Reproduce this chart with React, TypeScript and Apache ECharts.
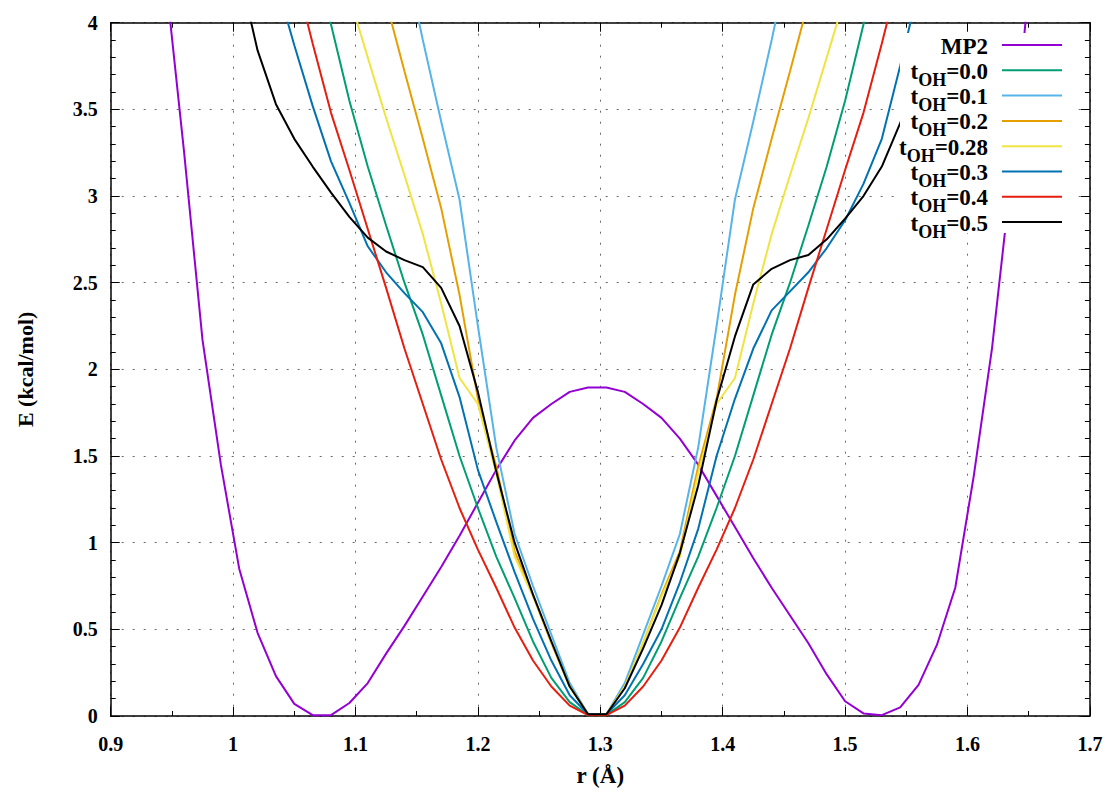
import React, { useEffect, useRef } from "react";
import * as echarts from "echarts";

// Sampling grid of bond length r (Å)
const rGrid = [
  0.93, 0.945, 0.96, 0.975, 0.99, 1.005, 1.02, 1.035, 1.05, 1.065,
  1.08, 1.095, 1.11, 1.125, 1.14, 1.155, 1.17, 1.185, 1.2, 1.215,
  1.23, 1.245, 1.26, 1.275, 1.29, 1.305, 1.32, 1.335, 1.35, 1.365,
  1.38, 1.395, 1.41, 1.425, 1.44, 1.455, 1.47, 1.485, 1.5, 1.515,
  1.53, 1.545, 1.56, 1.575, 1.59, 1.605, 1.62, 1.635, 1.65, 1.665,
];

const mp2 = [
  5.6, 4.25, 3.25, 2.17, 1.45, 0.85, 0.48, 0.23, 0.07, 0.005,
  0.005, 0.075, 0.19, 0.36, 0.52, 0.69, 0.86, 1.04, 1.23, 1.42,
  1.59, 1.72, 1.8, 1.87, 1.895, 1.895, 1.87, 1.8, 1.72, 1.6,
  1.45, 1.27, 1.09, 0.91, 0.74, 0.58, 0.42, 0.24, 0.085, 0.015,
  0.005, 0.05, 0.18, 0.41, 0.74, 1.38, 2.12, 3.07, 4.2, null,
];

const tOH00 = [
  null, null, null, null, null, null, null, null, null, 4.4,
  3.99, 3.55, 3.17, 2.83, 2.5, 2.2, 1.85, 1.5, 1.2, 0.92,
  0.68, 0.43, 0.22, 0.08, 0.005, 0.005, 0.08, 0.22, 0.43, 0.68,
  0.92, 1.2, 1.5, 1.85, 2.2, 2.5, 2.83, 3.17, 3.55, 3.99,
  4.4, null, null, null, null, null, null, null, null, null,
];

const tOH01 = [
  null, null, null, null, null, null, null, null, null, null,
  null, null, null, null, 4.4, 3.9, 3.43, 2.98, 2.25, 1.55,
  1.05, 0.75, 0.47, 0.19, 0.01, 0.01, 0.19, 0.47, 0.75, 1.05,
  1.55, 2.25, 2.98, 3.43, 3.9, 4.4, null, null, null, null,
  null, null, null, null, null, null, null, null, null, null,
];

const tOH02 = [
  null, null, null, null, null, null, null, null, null, null,
  null, null, null, 4.12, 3.72, 3.33, 2.93, 2.43, 1.83, 1.44,
  0.95, 0.7, 0.42, 0.17, 0.01, 0.01, 0.17, 0.42, 0.7, 0.95,
  1.44, 1.83, 2.43, 2.93, 3.33, 3.72, 4.12, null, null, null,
  null, null, null, null, null, null, null, null, null, null,
];

const tOH028 = [
  null, null, null, null, null, null, null, null, null, null,
  null, 4.15, 3.8, 3.45, 3.12, 2.78, 2.38, 1.95, 1.8, 1.4,
  0.92, 0.69, 0.42, 0.17, 0.01, 0.01, 0.17, 0.42, 0.69, 0.92,
  1.4, 1.8, 1.95, 2.38, 2.78, 3.12, 3.45, 3.8, 4.15, null,
  null, null, null, null, null, null, null, null, null, null,
];

const tOH03 = [
  null, null, null, null, null, null, null, 4.24, 3.87, 3.52,
  3.2, 2.96, 2.71, 2.56, 2.44, 2.33, 2.15, 1.84, 1.42, 1.12,
  0.83, 0.56, 0.32, 0.12, 0.01, 0.01, 0.12, 0.3, 0.5, 0.77,
  1.08, 1.5, 1.83, 2.12, 2.34, 2.45, 2.56, 2.7, 2.86, 3.07,
  3.33, 3.75, 4.2, null, null, null, null, null, null, null,
];

const tOH04 = [
  null, null, null, null, null, null, null, null, 4.3, 3.88,
  3.48, 3.15, 2.81, 2.47, 2.12, 1.8, 1.48, 1.2, 0.96, 0.74,
  0.51, 0.32, 0.17, 0.06, 0.005, 0.005, 0.06, 0.17, 0.32, 0.51,
  0.74, 0.96, 1.2, 1.48, 1.8, 2.12, 2.47, 2.81, 3.15, 3.48,
  3.88, 4.3, null, null, null, null, null, null, null, null,
];

const tOH05 = [
  null, null, null, null, null, 4.3, 3.84, 3.53, 3.33, 3.17,
  3.02, 2.88, 2.76, 2.68, 2.63, 2.59, 2.47, 2.25, 1.87, 1.41,
  1.0, 0.7, 0.43, 0.17, 0.01, 0.01, 0.16, 0.39, 0.64, 0.94,
  1.33, 1.82, 2.19, 2.49, 2.58, 2.63, 2.66, 2.75, 2.87, 3.0,
  3.17, 3.42, 3.7, null, null, null, null, null, null, null,
];

const seriesNames = ["MP2", "tOH=0.0", "tOH=0.1", "tOH=0.2", "tOH=0.28", "tOH=0.3", "tOH=0.4", "tOH=0.5"];
const legendValues = [null, "0.0", "0.1", "0.2", "0.28", "0.3", "0.4", "0.5"];
const seriesValues = [mp2, tOH00, tOH01, tOH02, tOH028, tOH03, tOH04, tOH05];
const seriesColors = ["#9400D3", "#009E73", "#56B4E9", "#E69F00", "#F0E442", "#0072B2", "#E51E10", "#000000"];

const xTicks = { min: 0.9, max: 1.7, interval: 0.1 };
const yTicks = { min: 0, max: 4, interval: 0.5 };

const FONT = '"Liberation Serif", "Times New Roman", serif';

export default function App() {
  const ref = useRef<HTMLDivElement>(null);

  useEffect(() => {
    document.body.style.margin = "0";
    if (!ref.current) return;
    const chart = echarts.init(ref.current, undefined, { renderer: "svg" });

    const fmt = (v: number) => String(Math.round(v * 100) / 100);

    const axisLine = { show: true, onZero: false, lineStyle: { color: "#000", width: 1.5 } };
    const axisTick = { show: true, inside: true, length: 9, lineStyle: { color: "#000", width: 1 } };
    const labelStyle = { fontFamily: FONT, fontWeight: "bold", fontSize: 20, color: "#000" };
    const splitLine = { show: true, lineStyle: { type: [2, 9], color: "#6a6a6a", width: 1 } };

    const series = seriesNames.map((name, i) => ({
      name,
      type: "line",
      xAxisIndex: 0,
      yAxisIndex: 0,
      symbol: "none",
      smooth: false,
      clip: true,
      z: 2 + i * 0.01,
      lineStyle: { color: seriesColors[i], width: 2 },
      itemStyle: { color: seriesColors[i] },
      data: rGrid
        .map((r, k) => [r, seriesValues[i][k]])
        .filter((p) => p[1] !== null),
    }));

    // opaque key (legend): text right-aligned, sample line on the right
    const keyX0 = 900;
    const keyTop = 33;
    const keyTextRight = 988;
    const keyLineX1 = 1002;
    const keyLineX2 = 1062;
    const rowStep = 25.3;
    const firstRow = 45;
    const graphicEls: any[] = [
      {
        type: "rect",
        z: 100,
        shape: { x: keyX0, y: keyTop, width: 170, height: 200 },
        style: { fill: "#fff" },
      },
    ];
    seriesNames.forEach((name, i) => {
      const rowY = firstRow + i * rowStep;
      const v = legendValues[i];
      if (v === null) {
        graphicEls.push({
          type: "text",
          z: 101,
          x: keyTextRight,
          y: rowY + 1,
          style: {
            text: name,
            align: "right",
            verticalAlign: "middle",
            fontFamily: FONT,
            fontWeight: "bold",
            fontSize: 23,
            fill: "#000",
          },
        });
      } else {
        graphicEls.push({
          type: "text",
          z: 101,
          x: keyTextRight,
          y: rowY + 1.5,
          style: {
            text: `{m|t}{s|OH}{m|=${v}}`,
            align: "right",
            verticalAlign: "middle",
            fill: "#000",
            rich: {
              m: { fontFamily: FONT, fontWeight: "bold", fontSize: 23, lineHeight: 24, verticalAlign: "top", fill: "#000" },
              s: { fontFamily: FONT, fontWeight: "bold", fontSize: 18, lineHeight: 18, padding: [11, 0, 0, 0], verticalAlign: "top", fill: "#000" },
            },
          },
        });
      }
      graphicEls.push({
        type: "line",
        z: 101,
        shape: { x1: keyLineX1, y1: rowY, x2: keyLineX2, y2: rowY },
        style: { stroke: seriesColors[i], lineWidth: 2 },
      });
    });

    const option: any = {
      animation: false,
      backgroundColor: "#fff",
      grid: { left: 110.7, right: 17.1, top: 22.7, bottom: 80, containLabel: false },
      xAxis: [
        {
          type: "value",
          position: "bottom",
          ...xTicks,
          name: "r (Å)",
          nameLocation: "middle",
          nameGap: 48,
          nameTextStyle: { fontFamily: FONT, fontWeight: "bold", fontSize: 23, color: "#000" },
          axisLine,
          axisTick,
          minorTick: { show: true, splitNumber: 2, length: 5, lineStyle: { color: "#000", width: 1 } },
          axisLabel: { ...labelStyle, margin: 18, formatter: fmt },
          splitLine,
          minorSplitLine: { show: false },
        },
        {
          type: "value",
          position: "top",
          ...xTicks,
          axisLine,
          axisTick,
          minorTick: { show: true, splitNumber: 2, length: 5, lineStyle: { color: "#000", width: 1 } },
          axisLabel: { show: false },
          splitLine: { show: false },
        },
      ],
      yAxis: [
        {
          type: "value",
          position: "left",
          ...yTicks,
          name: "E (kcal/mol)",
          nameLocation: "middle",
          nameGap: 74,
          nameRotate: 90,
          nameTextStyle: { fontFamily: FONT, fontWeight: "bold", fontSize: 22, color: "#000" },
          axisLine,
          axisTick,
          minorTick: { show: true, splitNumber: 5, length: 5, lineStyle: { color: "#000", width: 1 } },
          axisLabel: { ...labelStyle, margin: 13, formatter: fmt },
          splitLine,
        },
        {
          type: "value",
          position: "right",
          ...yTicks,
          axisLine,
          axisTick,
          minorTick: { show: true, splitNumber: 5, length: 5, lineStyle: { color: "#000", width: 1 } },
          axisLabel: { show: false },
          splitLine: { show: false },
        },
      ],
      series,
      graphic: { elements: graphicEls },
    };

    chart.setOption(option);
    return () => chart.dispose();
  }, []);

  return <div ref={ref} style={{ width: 1107, height: 796 }} />;
}
